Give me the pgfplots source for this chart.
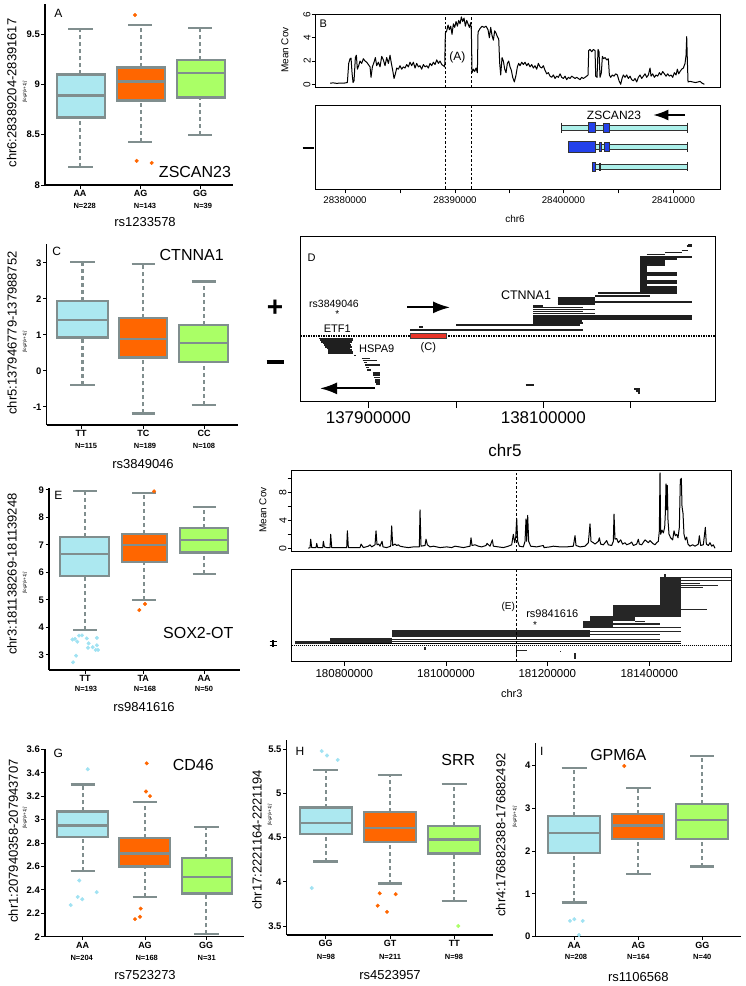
\documentclass[border=0pt]{standalone}
\usepackage{pgfplots}
\pgfplotsset{compat=1.18}
\usepackage{fontspec}
\setmainfont{Liberation Sans}
\usetikzlibrary{arrows.meta}
\newcommand\fsz[1]{\fontsize{#1}{#1}\selectfont}
\definecolor{bgray}{RGB}{128,142,142}
\definecolor{lblue}{RGB}{172,232,240}
\definecolor{orng}{RGB}{255,102,0}
\definecolor{lgrn}{RGB}{170,255,102}
\definecolor{dblue}{RGB}{160,226,242}
\definecolor{cyanbar}{RGB}{172,240,234}
\definecolor{blueex}{RGB}{35,65,235}
\definecolor{redbox}{RGB}{232,52,40}
\newcommand\wk[7]{%
 \addplot[bgray, line width=2.2pt, dash pattern=on 4pt off 3pt] coordinates {(#1,#4) (#1,#5)};
 \addplot[bgray, line width=2.2pt, dash pattern=on 4pt off 3pt] coordinates {(#1,#6) (#1,#7)};
 \addplot[bgray, line width=2.2pt] coordinates {(#2,#4) (#3,#4)};
 \addplot[bgray, line width=2.2pt] coordinates {(#2,#7) (#3,#7)};}
\newcommand\bx[6]{%
 \addplot[draw=bgray, fill=#6, line width=2.3pt] coordinates {(#1,#3) (#2,#3) (#2,#5) (#1,#5)} -- cycle;
 \addplot[bgray, line width=2.2pt] coordinates {(#1,#4) (#2,#4)};}
\newcommand\rect[5]{\addplot[#5] coordinates {(#1,#2) (#3,#2) (#3,#4) (#1,#4)} -- cycle;}
\pgfplotsset{
 boxax/.style={scale only axis, clip=false, anchor=south west,
   axis x line=bottom, axis y line=left,
   every outer x axis line/.append style={-}, every outer y axis line/.append style={-},
   every inner x axis line/.append style={-}, every inner y axis line/.append style={-},
   axis line style={-, line width=1.2pt, black},
   tick align=outside, major tick length=3.5pt, tick style={black, line width=1pt},
   yticklabel style={font=\fsz{9.5}\bfseries, inner sep=1.5pt},
   xticklabel style={font=\fsz{9}\bfseries, inner sep=2pt},
   /pgf/number format/assume math mode=true},
 rax/.style={scale only axis, anchor=south west, axis line style={line width=0.9pt},
   tick align=outside, tick pos=left, major tick length=4pt, tick style={black, line width=0.8pt},
   /pgf/number format/assume math mode=true, unbounded coords=jump},
}
\begin{document}
\begin{tikzpicture}
\useasboundingbox (0pt,0pt) rectangle (746pt,-986pt);
% ---------------- A
\begin{axis}[boxax, at={(45pt,-185pt)}, width=188pt, height=181pt, xmin=45, xmax=233, ymin=8, ymax=9.8, ytick={8,8.5,9,9.5}, xtick={80,140.7,200}, xticklabels={AA,AG,GG}]
\wk{80}{68.3}{92.7}{8.18}{8.67}{9.1}{9.55}
\bx{56.7}{105}{8.67}{8.89}{9.1}{lblue}
\wk{140.7}{128.3}{152.3}{8.43}{8.84}{9.17}{9.59}
\bx{116.7}{165}{8.84}{9.03}{9.17}{orng}
\wk{200}{188.3}{212.3}{8.5}{8.87}{9.24}{9.56}
\bx{176.7}{225}{8.87}{9.11}{9.24}{lgrn}
\addplot[only marks, mark=*, mark size=1.8pt, color=orng] coordinates {(135,9.69) (136.7,8.24) (151.7,8.22)};
\end{axis}
% ---------------- C
\begin{axis}[boxax, at={(46.7pt,-425pt)}, width=191.6pt, height=181pt, xmin=46.7, xmax=238.3, ymin=-1.5, ymax=3.52, ytick={-1,0,1,2,3}, xtick={81,143.3,204}, xticklabels={TT,TC,CC}]
\wk{82.5}{70}{95}{-0.39}{0.93}{1.94}{3.03}
\bx{56.7}{108.3}{0.93}{1.42}{1.94}{lblue}
\wk{143.3}{131.7}{155}{-1.18}{0.37}{1.46}{2.96}
\bx{119.3}{167.3}{0.37}{0.88}{1.46}{orng}
\wk{204}{191.7}{216}{-0.94}{0.24}{1.28}{2.48}
\bx{179.3}{227.7}{0.24}{0.77}{1.28}{lgrn}
\end{axis}
% ---------------- E box
\begin{axis}[boxax, at={(49pt,-670pt)}, width=191pt, height=181.7pt, xmin=49, xmax=240, ymin=2.45, ymax=9.06, ytick={3,4,5,6,7,8,9}, xtick={85,143.3,204}, xticklabels={TT,TA,AA}]
\wk{85}{73.3}{96.7}{3.9}{5.87}{7.3}{8.97}
\bx{60}{109.3}{5.87}{6.67}{7.3}{lblue}
\wk{144}{132}{156}{5.0}{6.38}{7.4}{8.88}
\bx{121.7}{166.7}{6.38}{7.0}{7.4}{orng}
\wk{204}{192.7}{216}{5.93}{6.72}{7.62}{8.37}
\bx{180}{227.7}{6.72}{7.17}{7.62}{lgrn}
\addplot[only marks, mark=*, mark size=1.8pt, color=dblue] coordinates {(72.5,3.56) (74.9,3.58) (77.3,3.48) (79,3.7) (82,3.71) (86.8,3.6) (88.6,3.42) (88,3.26) (92.7,3.28) (96.9,3.62) (96.9,3.35) (95.7,3.18) (98.1,3.18) (76.1,2.97) (73.1,2.73)};
\addplot[only marks, mark=*, mark size=1.8pt, color=orng] coordinates {(139.3,4.63) (145,4.85) (154,8.95)};
\end{axis}
% ---------------- G
\begin{axis}[boxax, at={(45pt,-936.7pt)}, width=199pt, height=187.4pt, xmin=45, xmax=244, ymin=2, ymax=3.6, ytick={2,2.2,2.4,2.6,2.8,3,3.2,3.4,3.6}, xtick={82.7,145,206}, xticklabels={AA,AG,GG}]
\wk{82.7}{70.7}{95}{2.56}{2.85}{3.07}{3.30}
\bx{57.3}{108.3}{2.85}{2.95}{3.07}{lblue}
\wk{145}{132.7}{156.7}{2.34}{2.60}{2.84}{3.15}
\bx{119.3}{170}{2.60}{2.71}{2.84}{orng}
\wk{206}{194}{219}{2.02}{2.37}{2.67}{2.94}
\bx{181.7}{232.3}{2.37}{2.51}{2.67}{lgrn}
\addplot[only marks, mark=*, mark size=1.8pt, color=dblue] coordinates {(87.7,3.43) (79.3,2.48) (77.7,2.34) (82.3,2.32) (96.7,2.38) (70.7,2.27)};
\addplot[only marks, mark=*, mark size=1.8pt, color=orng] coordinates {(146.7,3.48) (146,3.24) (150,3.20) (140.7,2.24) (140,2.17) (135,2.15)};
\end{axis}
% ---------------- H
\begin{axis}[boxax, at={(286.7pt,-935pt)}, width=206.3pt, height=195pt, xmin=286.7, xmax=493, ymin=3.398, ymax=5.605, ytick={3.5,4,4.5,5,5.5}, xtick={325.7,390,454.3}, xticklabels={GG,GT,TT}]
\wk{325.7}{313.3}{338.3}{4.23}{4.54}{4.84}{5.27}
\bx{300}{351.7}{4.54}{4.67}{4.84}{lblue}
\wk{390}{377.7}{402.3}{3.98}{4.45}{4.79}{5.21}
\bx{364.3}{415.7}{4.45}{4.61}{4.79}{orng}
\wk{454.3}{441.7}{466.7}{3.78}{4.32}{4.63}{5.11}
\bx{428.3}{480}{4.32}{4.48}{4.63}{lgrn}
\addplot[only marks, mark=*, mark size=1.8pt, color=dblue] coordinates {(321.7,5.48) (327,5.43) (337.7,5.38) (311.7,3.93)};
\addplot[only marks, mark=*, mark size=1.8pt, color=orng] coordinates {(379.7,3.87) (395.7,3.86) (377.7,3.73) (387,3.66)};
\addplot[only marks, mark=*, mark size=1.8pt, color=lgrn] coordinates {(458.3,3.50)};
\end{axis}
% ---------------- I
\begin{axis}[boxax, at={(535.7pt,-936.7pt)}, width=205pt, height=193.4pt, xmin=535.7, xmax=740.7, ymin=0, ymax=4.52, ytick={0,1,2,3,4}, xtick={574,638.3,702.3}, xticklabels={AA,AG,GG}]
\wk{574}{561.7}{586.7}{0.80}{1.96}{2.82}{3.94}
\bx{548.3}{600}{1.96}{2.43}{2.82}{lblue}
\wk{638.3}{626}{650.7}{1.47}{2.28}{2.86}{3.48}
\bx{611.7}{664}{2.28}{2.6}{2.86}{orng}
\wk{702.3}{690}{714.3}{1.64}{2.28}{3.1}{4.22}
\bx{676}{727.7}{2.28}{2.73}{3.1}{lgrn}
\addplot[only marks, mark=*, mark size=1.8pt, color=dblue] coordinates {(570,0.37) (574.3,0.41) (582.7,0.37) (579,0.04)};
\addplot[only marks, mark=*, mark size=1.8pt, color=orng] coordinates {(624.3,3.99)};
\end{axis}
% ---------------- B top (coverage)
\begin{axis}[rax, at={(315.7pt,-87.3pt)}, width=405pt, height=73.3pt, xmin=137, xmax=1352, ymin=-0.26, ymax=6.05, xtick=\empty, ytick={0,2,4,6}, yticklabel style={rotate=90, anchor=south, font=\fsz{10}, inner sep=1pt}]
\addplot[black, line width=1pt, line join=round] coordinates {(180,0.1)(190,0.12)(200,0.08)(210,0.1)(222,0.1)(232,0.15)(236,1.8)(240,2.2)(243,2.25)(246,1.0)(249,0.15)(252,0.3)(256,2.3)(259,2.5)(262,1.3)(266,1.6)(270,2.0)(275,1.8)(280,2.2)(285,2.0)(290,1.9)(295,1.7)(300,1.5)(303,0.6)(307,1.5)(312,1.9)(316,2.3)(320,1.6)(325,1.9)(330,1.5)(335,2.4)(340,2.1)(345,1.6)(350,2.3)(355,1.8)(360,2.5)(364,1.8)(368,1.2)(372,0.5)(376,0.9)(380,1.4)(385,1.3)(390,1.6)(395,1.3)(400,1.5)(405,1.4)(410,1.7)(415,1.5)(420,1.9)(425,1.6)(430,1.9)(435,1.4)(440,1.8)(445,1.5)(450,1.6)(455,1.3)(460,1.7)(465,1.5)(470,1.6)(475,1.4)(480,1.8)(485,1.6)(490,1.9)(495,1.7)(500,2.1)(505,1.8)(510,2.0)(515,1.7)(520,1.6)(524,1.5)(526,4.4)(530,4.6)(534,5.1)(538,4.7)(542,5.0)(546,4.3)(550,5.2)(554,4.9)(558,5.4)(562,5.0)(566,5.5)(570,5.2)(574,5.8)(578,5.4)(582,5.7)(586,5.0)(590,5.5)(594,5.2)(598,4.9)(602,5.3)(604,4.6)(606,1.0)(610,1.3)(614,1.1)(618,1.4)(622,1.0)(624,4.5)(630,4.8)(636,5.0)(642,4.9)(648,5.0)(654,4.7)(658,4.0)(662,4.9)(666,4.2)(670,3.8)(674,4.6)(678,4.4)(682,4.1)(686,3.9)(689,1.8)(692,0.8)(696,2.3)(700,2.0)(704,1.3)(708,1.0)(712,1.8)(716,2.0)(720,1.5)(724,1.2)(728,0.6)(733,0.2)(738,0.8)(742,1.5)(746,1.8)(750,1.6)(755,1.9)(760,1.7)(765,1.9)(770,1.6)(775,1.8)(780,1.5)(785,1.7)(790,1.4)(795,1.6)(800,1.3)(805,1.8)(810,1.5)(815,1.4)(820,1.6)(825,1.2)(830,0.9)(835,1.0)(840,0.7)(845,0.6)(850,0.8)(855,0.5)(860,0.7)(865,0.6)(870,0.9)(875,0.6)(880,0.5)(885,0.7)(890,0.4)(895,0.6)(900,0.5)(905,0.7)(910,0.6)(915,0.5)(920,0.6)(925,0.5)(930,0.4)(935,0.6)(940,0.5)(945,0.6)(950,0.7)(954,0.8)(956,2.9)(960,3.0)(965,2.8)(970,3.0)(975,2.9)(977,0.7)(981,0.6)(984,3.0)(987,2.8)(990,0.6)(994,1.0)(997,2.4)(1001,2.2)(1005,2.3)(1010,2.1)(1015,2.2)(1018,0.8)(1022,0.6)(1027,0.8)(1032,0.7)(1037,0.9)(1042,0.8)(1047,0.3)(1052,0.0)(1056,0.5)(1060,0.8)(1065,0.6)(1070,0.8)(1075,0.5)(1080,0.7)(1085,0.4)(1090,0.3)(1095,0.5)(1100,0.2)(1105,0.6)(1110,0.8)(1115,0.5)(1120,0.7)(1125,0.9)(1130,0.6)(1135,0.8)(1140,1.4)(1143,0.7)(1148,0.9)(1153,0.6)(1158,0.8)(1163,0.7)(1168,1.0)(1173,0.8)(1178,1.1)(1183,0.9)(1188,0.7)(1193,0.9)(1198,0.7)(1203,0.8)(1208,0.6)(1213,1.0)(1218,0.8)(1222,1.3)(1226,0.9)(1230,1.1)(1235,1.3)(1240,1.4)(1245,1.8)(1248,2.5)(1250,4.1)(1252,2.0)(1254,0.2)(1260,0.25)(1268,0.2)(1276,0.15)(1284,0.2)(1290,0.25)(1296,0.1)(1303,0.0)};
\addplot[black, line width=0.9pt, dash pattern=on 2.5pt off 2pt] coordinates {(525,-0.26) (525,6.05)};
\addplot[black, line width=0.9pt, dash pattern=on 2.5pt off 2pt] coordinates {(604,-0.26) (604,6.05)};
\end{axis}
% ---------------- B bottom (gene track)
\begin{axis}[rax, at={(315.7pt,-189.3pt)}, width=405pt, height=84.3pt, xmin=137, xmax=1352, ymin=315, ymax=568, y dir=reverse, ytick=\empty, xtick={225,390,555,717,880,1045,1210}, xticklabels={28380000,,28390000,,28400000,,28410000}, xticklabel style={font=\fsz{9.7}}]
\addplot[black, line width=0.9pt, dash pattern=on 2.5pt off 2pt] coordinates {(525,315) (525,568)};
\addplot[black, line width=0.9pt, dash pattern=on 2.5pt off 2pt] coordinates {(604,315) (604,568)};
\rect{875}{375}{1252}{391}{fill=cyanbar, draw=black!80, line width=0.9pt}
\rect{955}{368}{975}{398}{fill=blueex, draw=black!80, line width=0.7pt}
\rect{1000}{369}{1017}{397}{fill=blueex, draw=black!80, line width=0.7pt}
\rect{895}{432}{1252}{448}{fill=cyanbar, draw=black!80, line width=0.9pt}
\rect{895}{425}{977}{457}{fill=blueex, draw=black!80, line width=0.7pt}
\rect{987}{428}{995}{454}{fill=blueex, draw=black!80, line width=0.7pt}
\rect{1002}{427}{1017}{455}{fill=blueex, draw=black!80, line width=0.7pt}
\rect{968}{492}{1252}{508}{fill=cyanbar, draw=black!80, line width=0.9pt}
\rect{968}{487}{977}{513}{fill=blueex, draw=black!80, line width=0.7pt}
\addplot[black!85, line width=1.5pt] coordinates {(875,368) (875,398) (nan,nan) (1252,368) (1252,398) (nan,nan) (1252,425) (1252,456) (nan,nan) (1252,486) (1252,514) (nan,nan) (990,488) (990,512)};
\addplot[black, line width=1.6pt, -{Latex[length=15pt,width=11pt]}] coordinates {(1245,345) (1150,345)};
\end{axis}
% ---------------- D
\begin{axis}[rax, at={(300.7pt,-401.7pt)}, width=414.3pt, height=165pt, xmin=122, xmax=1365, ymin=20, ymax=515, y dir=reverse, ytick=\empty, xtick={325,590,850,1110}, xticklabels={137900000,,138100000,}, xticklabel style={font=\fsz{17}}, major tick length=6.5pt]
\addplot[black, line width=1.3pt, dash pattern=on 1.3pt off 1.2pt] coordinates {(122,318) (1365,318)};
\addplot[black!88, line width=2.2pt] coordinates {(450,300) (970,300)};
\addplot[black!88, line width=1.6pt] coordinates {(478,291)(490,291)(nan,nan)(588,284)(960,284)(nan,nan)(820,278)(970,278)(nan,nan)(820,272)(965,272)(nan,nan)(820,266)(1295,266)(nan,nan)(820,261)(1295,261)(nan,nan)(820,256)(1295,256)(nan,nan)(820,250)(1005,250)(nan,nan)(820,244)(970,244)(nan,nan)(820,238)(1005,238)(nan,nan)(820,232)(970,232)(nan,nan)(820,227)(850,227)(nan,nan)(893,221)(1005,221)(nan,nan)(893,215)(1295,215)(nan,nan)(893,209)(1005,209)(nan,nan)(893,204)(1005,204)(nan,nan)(1005,197)(1170,197)(nan,nan)(1015,189)(1250,189)(nan,nan)(1140,182)(1250,182)(nan,nan)(1140,176)(1250,176)(nan,nan)(1140,170)(1250,170)(nan,nan)(1140,164)(1160,164)(nan,nan)(1140,158)(1250,158)(nan,nan)(1140,152)(1250,152)(nan,nan)(1140,146)(1160,146)(nan,nan)(1140,140)(1160,140)(nan,nan)(1140,134)(1250,134)(nan,nan)(1140,128)(1250,128)(nan,nan)(1140,122)(1160,122)(nan,nan)(1140,116)(1160,116)(nan,nan)(1140,110)(1160,110)(nan,nan)(1140,104)(1215,104)(nan,nan)(1140,98)(1215,98)(nan,nan)(1140,92)(1215,92)(nan,nan)(1140,86)(1250,86)(nan,nan)(1140,80)(1295,80)(nan,nan)(1160,73)(1215,73)(nan,nan)(1215,67)(1265,67)(nan,nan)(1265,61)(1285,61)(nan,nan)(1280,48)(1295,48)(nan,nan)(1285,44)(1295,44)};
\addplot[black!88, line width=1.6pt] coordinates {(178,325)(278,325)(nan,nan)(180,330)(278,330)(nan,nan)(183,335)(275,335)(nan,nan)(188,340)(270,340)(nan,nan)(192,345)(272,345)(nan,nan)(195,350)(275,350)(nan,nan)(200,355)(270,355)(nan,nan)(203,360)(275,360)(nan,nan)(205,365)(278,365)(nan,nan)(205,370)(280,370)(nan,nan)(282,376)(288,376)(nan,nan)(305,385)(330,385)(nan,nan)(308,391)(350,391)(nan,nan)(312,397)(322,397)(nan,nan)(315,405)(360,405)(nan,nan)(318,412)(326,412)(nan,nan)(322,420)(332,420)(nan,nan)(338,428)(360,428)(nan,nan)(340,435)(360,435)(nan,nan)(342,442)(360,442)(nan,nan)(345,450)(360,450)(nan,nan)(345,456)(360,456)(nan,nan)(348,462)(360,462)(nan,nan)(797,465)(822,465)(nan,nan)(1122,477)(1140,477)(nan,nan)(1127,483)(1140,483)(nan,nan)(1133,489)(1140,489)};
\rect{452}{311}{558}{326}{fill=redbox, draw=black!75, line width=0.6pt}
\addplot[black, line width=1.8pt, -{Latex[length=17pt,width=12pt]}] coordinates {(442,232) (570,232)};
\addplot[black, line width=1.8pt, -{Latex[length=17pt,width=12pt]}] coordinates {(345,475) (180,475)};
\end{axis}
% ---------------- E right top (coverage)
\begin{axis}[rax, at={(291.7pt,-551.7pt)}, width=439.3pt, height=81.7pt, xmin=95, xmax=1413, ymin=-0.49, ymax=11.2, xtick=\empty, ytick={0,2,4,6,8,10}, yticklabels={0,,4,,8,}, yticklabel style={rotate=90, anchor=south, font=\fsz{10.5}, inner sep=1pt}]
\addplot[black, line width=1pt, line join=round] coordinates {(145,0)(150,0.1)(152,1.3)(155,0.1)(168,0.1)(170,0.7)(173,0.1)(188,0.1)(190,1.0)(193,0.2)(200,0.1)(210,0.1)(212,2.0)(215,0.1)(240,0.1)(260,0.1)(262,2.5)(265,0.1)(300,0.1)(303,0.6)(306,0.4)(310,0.1)(325,0.3)(330,0.5)(335,0.2)(345,0.5)(348,2.5)(351,0.5)(356,0.6)(360,0.3)(366,1.0)(369,0.2)(380,0.1)(392,0.3)(395,3.2)(398,0.4)(405,0.6)(410,0.4)(415,0.5)(420,0.3)(430,0.2)(445,0.1)(460,0.2)(478,0.2)(480,5.5)(483,0.3)(495,0.4)(498,1.3)(502,0.5)(510,0.2)(520,0.3)(540,0.1)(560,0.2)(575,0.1)(585,0.3)(598,0.2)(610,0.1)(620,0.2)(630,0.3)(633,1.5)(636,0.4)(645,0.5)(655,0.3)(665,0.2)(678,0.4)(681,0.7)(690,0.3)(697,1.2)(700,0.3)(715,0.2)(730,0.1)(745,0.3)(755,0.5)(760,2.0)(764,0.8)(767,1.5)(770,4.3)(773,1.0)(778,0.3)(790,0.2)(795,1.0)(798,4.2)(800,1.0)(803,4.7)(806,1.0)(812,0.3)(830,0.2)(850,0.4)(852,0.1)(870,0.2)(880,0.3)(900,0.2)(920,0.2)(940,0.3)(945,1.8)(948,0.4)(960,0.2)(975,0.3)(985,0.8)(990,3.5)(993,1.0)(1000,0.8)(1005,0.6)(1015,1.0)(1018,1.5)(1022,0.6)(1030,0.5)(1040,1.1)(1045,0.5)(1055,0.4)(1060,1.0)(1062,4.9)(1065,1.3)(1070,1.4)(1075,0.8)(1082,1.2)(1088,0.6)(1095,0.8)(1100,0.5)(1110,0.7)(1115,0.9)(1120,0.4)(1130,0.6)(1135,1.3)(1138,0.6)(1145,0.5)(1155,1.2)(1160,1.0)(1165,0.8)(1170,1.1)(1178,0.7)(1185,0.5)(1190,0.8)(1195,1.0)(1198,2.5)(1200,10.8)(1202,2.0)(1206,2.6)(1210,2.2)(1214,3.0)(1216,5.0)(1218,9.2)(1220,5.5)(1222,9.0)(1224,4.0)(1227,2.0)(1232,1.5)(1238,1.2)(1242,2.5)(1246,1.8)(1250,2.0)(1254,1.5)(1258,3.0)(1261,9.8)(1264,10.0)(1266,6.0)(1269,5.0)(1272,2.0)(1276,1.2)(1280,1.6)(1284,0.6)(1290,0.3)(1298,0.5)(1305,0.3)(1315,0.6)(1318,1.8)(1322,0.4)(1330,0.5)(1336,3.0)(1339,0.6)(1345,0.4)(1350,0.8)(1355,0.3)(1360,0.5)(1365,0)};
\addplot[black, line width=1.1pt, dash pattern=on 2.5pt off 2pt] coordinates {(770,-0.49) (770,11.2)};
\end{axis}
% ---------------- E right bottom (track)
\begin{axis}[rax, at={(291.7pt,-661.7pt)}, width=439.3pt, height=92.4pt, xmin=95, xmax=1413, ymin=328, ymax=605, y dir=reverse, ytick=\empty, xtick={253,558,862,1168}, xticklabels={180800000,181000000,181200000,181400000}, xticklabel style={font=\fsz{11.5}}]
\addplot[black, line width=0.6pt, dash pattern=on 1pt off 1pt] coordinates {(95,557) (1413,557)};
\addplot[black, line width=0.8pt] coordinates {(105,550) (1262,550)};
\rect{105}{543}{210}{552}{fill=black!85, draw=none}
\rect{210}{534}{395}{548}{fill=black!85, draw=none}
\rect{395}{511}{990}{530}{fill=black!85, draw=none}
\rect{968}{484}{1060}{505}{fill=black!85, draw=none}
\rect{990}{468}{1125}{484}{fill=black!85, draw=none}
\rect{1060}{434}{1200}{471}{fill=black!85, draw=none}
\rect{1200}{350}{1262}{471}{fill=black!85, draw=none}
\addplot[black!85, line width=1.1pt] coordinates {(395,538)(1200,538)(nan,nan)(395,544)(1262,544)(nan,nan)(968,502)(1262,502)(nan,nan)(990,515)(1262,515)(nan,nan)(990,523)(1200,523)(nan,nan)(1125,485)(1155,485)(nan,nan)(1060,492)(1200,492)(nan,nan)(1200,448)(1340,448)(nan,nan)(1200,458)(1262,458)(nan,nan)(1200,466)(1262,466)(nan,nan)(1262,353)(1413,353)(nan,nan)(1262,362)(1413,362)(nan,nan)(1262,370)(1320,370)(nan,nan)(1262,376)(1375,376)(nan,nan)(1262,383)(1330,383)};
\addplot[black!85, line width=1.1pt] coordinates {(1215,343)(1215,350)(nan,nan)(495,562)(495,570)(nan,nan)(770,560)(770,585)(nan,nan)(770,572)(800,572)(nan,nan)(900,575)(904,575)(nan,nan)(945,580)(945,598)};
\addplot[black, line width=1.1pt, dash pattern=on 2.5pt off 2pt] coordinates {(770,328) (770,605)};
\end{axis}
% ---------------- texts
\begin{scope}[x=1pt,y=-1pt]
% A
\node[font=\fsz{12}] at (58.3,13.3) {A};
\node[font=\fsz{16}] at (195,172) {ZSCAN23};
\node[font=\fsz{7.5}\bfseries] at (84.7,206) {N=228};
\node[font=\fsz{7.5}\bfseries] at (145,206) {N=143};
\node[font=\fsz{7.5}\bfseries] at (203,206) {N=39};
\node[font=\fsz{13}] at (145,221.7) {rs1233578};
\node[font=\fsz{13},rotate=90] at (11.7,93) {chr6:28389204-28391617};
\node[font=\fsz{4.5}\itshape,rotate=90] at (25,92) {[log2(x+1)]};
% C
\node[font=\fsz{12}] at (56.7,251.7) {C};
\node[font=\fsz{16}] at (191.7,255) {CTNNA1};
\node[font=\fsz{7.5}\bfseries] at (86,446) {N=115};
\node[font=\fsz{7.5}\bfseries] at (145,446) {N=189};
\node[font=\fsz{7.5}\bfseries] at (204,446) {N=108};
\node[font=\fsz{13}] at (143,464) {rs3849046};
\node[font=\fsz{13},rotate=90] at (12,333) {chr5:137946779-137988752};
\node[font=\fsz{4.5}\itshape,rotate=90] at (25,342) {[log2(x+1)]};
% E box
\node[font=\fsz{12}] at (58.3,495) {E};
\node[font=\fsz{16}] at (198.3,633.3) {SOX2-OT};
\node[font=\fsz{7.5}\bfseries] at (86,689.3) {N=193};
\node[font=\fsz{7.5}\bfseries] at (145,689.3) {N=168};
\node[font=\fsz{7.5}\bfseries] at (204,689.3) {N=50};
\node[font=\fsz{13}] at (144,706.7) {rs9841616};
\node[font=\fsz{13},rotate=90] at (12,574) {chr3:181138269-181139248};
\node[font=\fsz{4.5}\itshape,rotate=90] at (25,583) {[log2(x+1)]};
% G
\node[font=\fsz{12}] at (58.3,753.3) {G};
\node[font=\fsz{16}] at (193.3,765) {CD46};
\node[font=\fsz{7.5}\bfseries] at (81.7,957.7) {N=204};
\node[font=\fsz{7.5}\bfseries] at (146.7,957.7) {N=168};
\node[font=\fsz{7.5}\bfseries] at (206.7,957.7) {N=31};
\node[font=\fsz{13}] at (145,975) {rs7523273};
\node[font=\fsz{13},rotate=90] at (13.3,841) {chr1:207940358-207943707};
\node[font=\fsz{4.5}\itshape,rotate=90] at (25,818) {[log2(x+1)]};
% H
\node[font=\fsz{12}] at (300,751.7) {H};
\node[font=\fsz{16}] at (458.3,760) {SRR};
\node[font=\fsz{7.5}\bfseries] at (326,957.3) {N=98};
\node[font=\fsz{7.5}\bfseries] at (390,957.3) {N=211};
\node[font=\fsz{7.5}\bfseries] at (454,957.3) {N=98};
\node[font=\fsz{13}] at (390,975) {rs4523957};
\node[font=\fsz{13},rotate=90] at (257,840) {chr17:2221164-2221194};
\node[font=\fsz{4.5}\itshape,rotate=90] at (270,815) {[log2(x+1)]};
% I
\node[font=\fsz{12}] at (541.7,751.7) {I};
\node[font=\fsz{16}] at (618.3,755) {GPM6A};
\node[font=\fsz{7.5}\bfseries] at (576,957.3) {N=208};
\node[font=\fsz{7.5}\bfseries] at (638.3,957.3) {N=164};
\node[font=\fsz{7.5}\bfseries] at (702.3,957.3) {N=40};
\node[font=\fsz{13}] at (638.3,976.7) {rs1106568};
\node[font=\fsz{13},rotate=90] at (500.7,835) {chr4:176882388-176882492};
\node[font=\fsz{4.5}\itshape,rotate=90] at (515,817) {[log2(x+1)]};
% B
\node[font=\fsz{11}] at (323.3,23.3) {B};
\node[font=\fsz{12}] at (457.3,57.3) {(A)};
\node[font=\fsz{10},rotate=90] at (285,50) {Mean Cov};
\node[inner sep=0pt] at (308,148) {\rule{11pt}{2.6pt}};
\node[font=\fsz{12}] at (614,115) {ZSCAN23};
\node[font=\fsz{10}] at (515,219) {chr6};
% D
\node[font=\fsz{11}] at (311.7,257.3) {D};
\node[font=\fsz{10.5}] at (334,304) {rs3849046};
\node[font=\fsz{10}] at (337.3,314) {*};
\node[font=\fsz{11}] at (337.3,329) {ETF1};
\node[font=\fsz{11}] at (376.7,348.3) {HSPA9};
\node[font=\fsz{12.5}] at (526,295) {CTNNA1};
\node[font=\fsz{11}] at (428.3,347.3) {(C)};
\node[font=\fsz{28}\bfseries] at (275,308) {+};
\node[inner sep=0pt] at (275,362) {\rule{17pt}{3.5pt}};
\node[font=\fsz{17}] at (505,450) {chr5};
% E right
\node[font=\fsz{10},rotate=90] at (263,510) {Mean Cov};
\node[font=\fsz{10}] at (508.3,606.7) {(E)};
\node[font=\fsz{11}] at (552.3,614) {rs9841616};
\node[font=\fsz{10}] at (535,625) {*};
\node[font=\fsz{11}] at (511.7,693.3) {chr3};
\node[inner sep=0pt] at (273,641.5) {\rule{7pt}{1.5pt}};
\node[inner sep=0pt] at (273,645.5) {\rule{7pt}{1.5pt}};
\node[inner sep=0pt] at (273,643.5) {\rule{1.5pt}{7pt}};
\end{scope}
\end{tikzpicture}
\end{document}
